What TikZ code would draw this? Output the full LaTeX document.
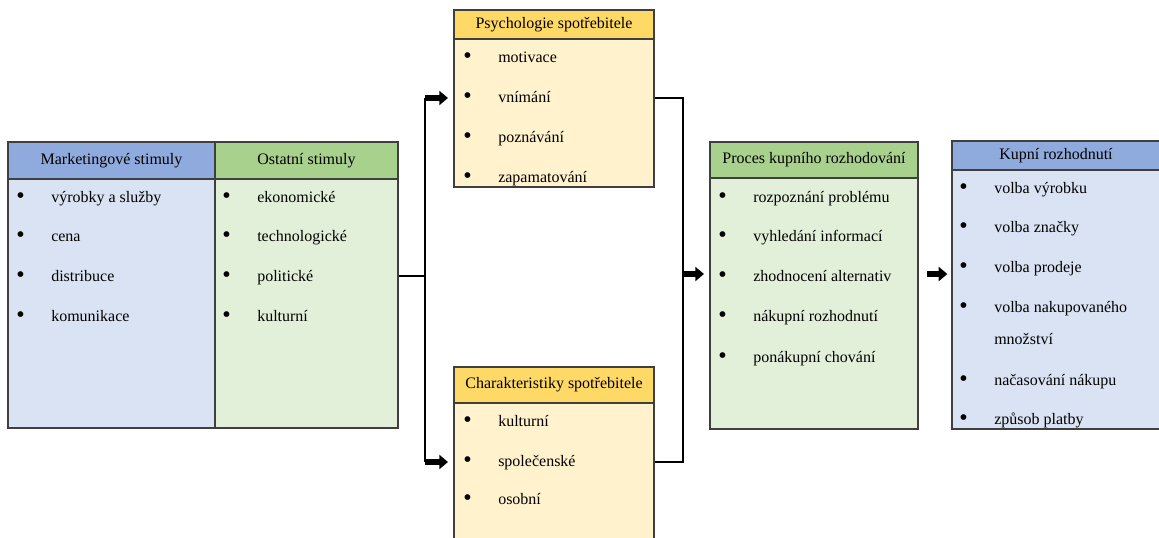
\documentclass[tikz,border=0pt]{standalone}
\usepackage{fontspec}
\setmainfont{Liberation Serif}
\usetikzlibrary{fit,arrows.meta}
\definecolor{bhead}{HTML}{8FAADC}
\definecolor{bbody}{HTML}{DAE3F3}
\definecolor{ghead}{HTML}{A9D18E}
\definecolor{gbody}{HTML}{E2F0D9}
\definecolor{yhead}{HTML}{FFD966}
\definecolor{ybody}{HTML}{FFF2CC}
\definecolor{bord}{HTML}{3F3F3F}
\tikzset{
  boxbody/.style={draw=bord, line width=1pt, inner sep=0pt},
  boxhead/.style={draw=bord, line width=1pt, inner sep=0pt, font=\fontsize{12}{14}\selectfont},
  item/.style={anchor=base west, inner sep=0pt, font=\fontsize{12}{14}\selectfont},
  conn/.style={line width=1.5pt, black},
  barrow/.style={line width=4.5pt, black, -{Triangle[length=6.5pt,width=10.5pt]}}
}
\newcommand{\bul}[1]{\makebox[26.25pt][l]{\raisebox{-0.9pt}{\scalebox{1.5}{\textbullet}}}#1}
\begin{document}
\begin{tikzpicture}[x=0.75pt,y=-0.75pt]
\useasboundingbox (0,0) rectangle (1159,537);
\clip (0,0) rectangle (1159,537);
% Marketingove stimuly
\node[boxbody, fill=bbody, fit={(8,142) (215,428)}] (M) {};
\node[boxhead, fill=bhead, fit={(8,142) (215,179)}] (Mh) {};
\node at (Mh.center) {\fontsize{12}{14}\selectfont Marketingové stimuly};
\node[item] (m1) at (16,202.5) {\bul{výrobky a služby}};
\node[item] (m2) at (16,241.5) {\bul{cena}};
\node[item] (m3) at (16,281.5) {\bul{distribuce}};
\node[item] (m4) at (16,321.5) {\bul{komunikace}};
% Ostatni stimuly
\node[boxbody, fill=gbody, fit={(215,142) (398,428)}] (O) {};
\node[boxhead, fill=ghead, fit={(215,142) (398,179)}] (Oh) {};
\node at (Oh.center) {\fontsize{12}{14}\selectfont Ostatní stimuly};
\node[item] (o1) at (222,202.5) {\bul{ekonomické}};
\node[item] (o2) at (222,241.5) {\bul{technologické}};
\node[item] (o3) at (222,281.5) {\bul{politické}};
\node[item] (o4) at (222,321.5) {\bul{kulturní}};
% Psychologie
\node[boxbody, fill=ybody, fit={(454,10) (654,187)}] (P) {};
\node[boxhead, fill=yhead, fit={(454,10) (654,39)}] (Ph) {};
\node at (Ph.center) {\fontsize{12}{14}\selectfont Psychologie spotřebitele};
\node[item] (p1) at (463,62.5) {\bul{motivace}};
\node[item] (p2) at (463,102.5) {\bul{vnímání}};
\node[item] (p3) at (463,142.5) {\bul{poznávání}};
\node[item] (p4) at (463,182.5) {\bul{zapamatování}};
% Charakteristiky
\node[boxbody, fill=ybody, fit={(454,367) (654,545)}] (C) {};
\node[boxhead, fill=yhead, fit={(454,367) (654,403)}] (Ch) {};
\node at (Ch.center) {\fontsize{12}{14}\selectfont Charakteristiky spotřebitele};
\node[item] (c1) at (463,426.5) {\bul{kulturní}};
\node[item] (c2) at (463,466.5) {\bul{společenské}};
\node[item] (c3) at (463,504.5) {\bul{osobní}};
% Proces
\node[boxbody, fill=gbody, fit={(710,142) (918,429)}] (R) {};
\node[boxhead, fill=ghead, fit={(710,142) (918,178)}] (Rh) {};
\node at (Rh.center) {\fontsize{12}{14}\selectfont Proces kupního rozhodování};
\node[item] (r1) at (718,202.5) {\bul{rozpoznání problému}};
\node[item] (r2) at (718,241.5) {\bul{vyhledání informací}};
\node[item] (r3) at (718,281.5) {\bul{zhodnocení alternativ}};
\node[item] (r4) at (718,321.5) {\bul{nákupní rozhodnutí}};
\node[item] (r5) at (718,362.5) {\bul{ponákupní chování}};
% Kupni rozhodnuti
\node[boxbody, fill=bbody, fit={(952,141) (1163,429)}] (K) {};
\node[boxhead, fill=bhead, fit={(952,141) (1163,170)}] (Kh) {};
\node at (1056,155.5) {\fontsize{12}{14}\selectfont Kupní rozhodnutí};
\node[item] (k1) at (959,193.5) {\bul{volba výrobku}};
\node[item] (k2) at (959,232.5) {\bul{volba značky}};
\node[item] (k3) at (959,272.5) {\bul{volba prodeje}};
\node[item] (k4) at (959,312.5) {\bul{volba nakupovaného}};
\node[item] (k4b) at (994,344.5) {množství};
\node[item] (k5) at (959,385.5) {\bul{načasování nákupu}};
\node[item] (k6) at (959,424.5) {\bul{způsob platby}};
% connectors
\coordinate (j1) at (425,276);
\coordinate (jt) at (425,98);
\coordinate (jb) at (425,462);
\coordinate (kt) at (683,98);
\coordinate (kb) at (683,462);
\coordinate (km) at (683,274);
\coordinate (a2) at (927,274);
\draw[conn] (j1 -| O.east) -- (j1);
\draw[conn] (jt) -- (jb);
\draw[barrow, shorten >=4pt] (jt) -- (jt -| P.west);
\draw[barrow, shorten >=4pt] (jb) -- (jb -| C.west);
\draw[conn] (jt -| P.east) -- (kt) -- (kb) -- (jb -| C.east);
\draw[barrow, shorten >=4pt] (km) -- (km -| R.west);
\draw[barrow, shorten >=3pt] (a2) -- (a2 -| K.west);
\end{tikzpicture}
\end{document}
